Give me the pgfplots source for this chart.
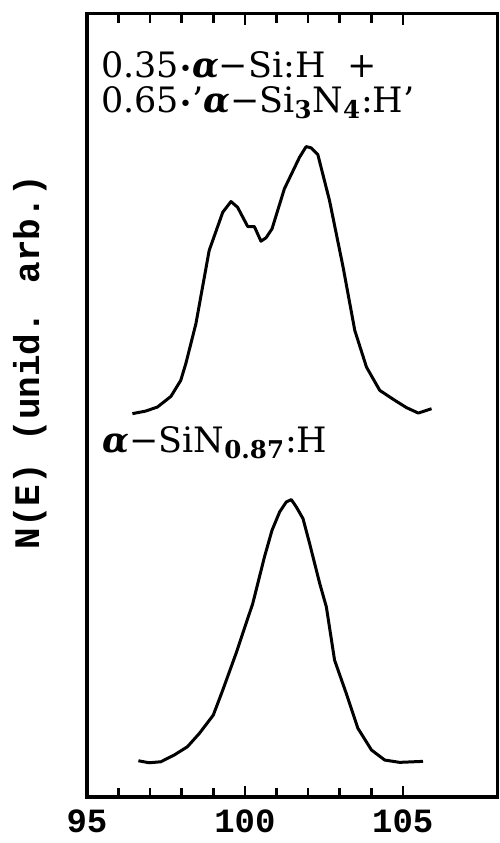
\documentclass[border=0pt]{standalone}
\usepackage{fontspec}
\usepackage{pgfplots}
\usepackage{pgfplotstable}
\pgfplotsset{compat=1.18}
\setmainfont{DejaVu Serif}
\newfontfamily\monob{Liberation Mono}
\newfontfamily\annfont{DejaVu Serif}
\newcommand{\dotm}{\raisebox{0.05ex}{\fontsize{11}{11}\selectfont •}}

\pgfplotstableread{
x y
96.44 383.7
96.86 386.3
97.23 390.3
97.66 401
97.97 417
98.13 433.7
98.45 473.7
98.87 547
99.30 585.3
99.56 596
99.77 590.3
100.09 571
100.30 571
100.51 556.3
100.67 559.7
100.86 568.7
101.25 608.7
101.73 640.3
101.94 651
102.10 649.7
102.31 643
102.68 597
103.11 530.3
103.48 467
103.85 430.3
104.27 407
104.75 397
105.12 389.7
105.49 384.3
105.91 388.7
}\uppercurve

\pgfplotstableread{
x y
96.63 36.3
96.97 34.3
97.34 35.3
97.76 42
98.18 50.3
98.56 63.7
99.00 82
99.30 107
99.72 143.7
100.25 193.7
100.62 240.3
100.86 267
101.10 285.3
101.31 295.3
101.47 297.7
101.63 290.3
101.84 278.7
102.05 253.7
102.37 213.7
102.58 190.3
102.84 137
103.21 103.7
103.58 68.7
104.01 47
104.43 37
104.90 34.7
105.64 35.7
}\lowercurve

\pgfplotsset{
  basebox/.style={
    scale only axis,
    width=205.5pt, height=392pt,
    xmin=95, xmax=108, ymin=0, ymax=784,
    xtick={95,100,105},
    minor x tick num=4,
    ytick=\empty,
    tick align=inside,
    major tick length=5.5pt,
    minor tick length=4.5pt,
    every tick/.style={black, line width=1.3pt},
    axis line style={line width=1.6pt},
  }
}

\begin{document}
\begin{tikzpicture}
\begin{axis}[
  basebox,
  tick pos=both,
  xticklabel pos=lower,
  /pgf/number format/assume math mode=true,
  xticklabel style={font=\monob\bfseries\fontsize{17}{17}\selectfont, yshift=-3pt},
  ylabel={N(E) (unid. arb.)},
  ylabel style={font=\monob\bfseries\fontsize{18}{18}\selectfont,
    at={(axis description cs:-0.139,0.555)}, anchor=center},
]
\addplot[black, line width=1.5pt, line join=round] table[x=x,y=y] {\uppercurve};
\addplot[black, line width=1.5pt, line join=round] table[x=x,y=y] {\lowercurve};
\node[anchor=base west, inner sep=0pt, font=\annfont\fontsize{17.5}{17.5}\selectfont]
  at (axis cs:95.44,720) {0.35\dotm\textbf{\textit{α}}−Si:H\ \ +};
\node[anchor=base west, inner sep=0pt, font=\annfont\fontsize{17.5}{17.5}\selectfont]
  at (axis cs:95.44,685) {0.65\dotm’\textbf{\textit{α}}−Si\textsubscript{\bfseries 3}N\textsubscript{\bfseries 4}:H’};
\node[anchor=base west, inner sep=0pt, font=\annfont\fontsize{17.5}{17.5}\selectfont]
  at (axis cs:95.48,345) {\textbf{\textit{α}}−SiN\textsubscript{\bfseries 0.87}:H};
\end{axis}
\begin{axis}[
  basebox,
  axis x line*=top,
  axis y line=none,
  xticklabels={},
]
\end{axis}
\path ([xshift=-43.5pt,yshift=-23pt]current axis.south west) rectangle ([xshift=1pt,yshift=6.35pt]current axis.north east);
\end{tikzpicture}
\end{document}
